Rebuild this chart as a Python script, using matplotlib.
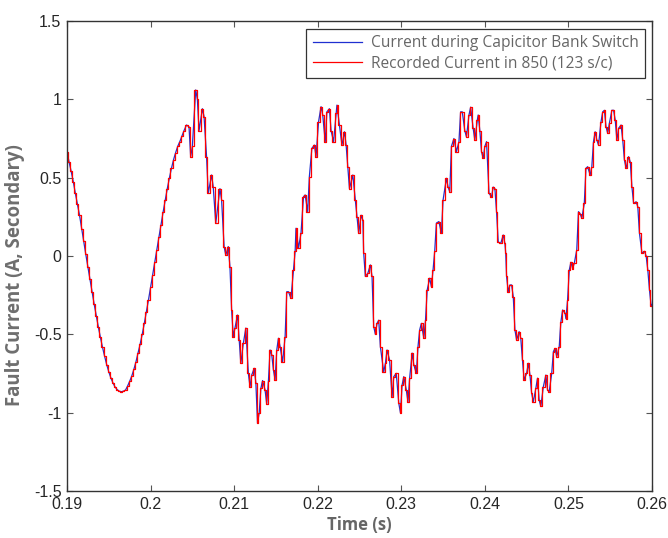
import matplotlib
matplotlib.use('Agg')
import matplotlib.pyplot as plt

# time (s) and current (A, secondary)
time_s = [
    0.19000, 0.19025, 0.19050, 0.19075, 0.19100, 0.19125, 0.19150, 0.19175, 0.19200, 0.19225,
    0.19250, 0.19275, 0.19300, 0.19325, 0.19350, 0.19375, 0.19400, 0.19425, 0.19450, 0.19475,
    0.19500, 0.19525, 0.19550, 0.19575, 0.19600, 0.19625, 0.19650, 0.19675, 0.19700, 0.19725,
    0.19750, 0.19775, 0.19800, 0.19825, 0.19850, 0.19875, 0.19900, 0.19925, 0.19950, 0.19975,
    0.20000, 0.20025, 0.20050, 0.20075, 0.20100, 0.20125, 0.20150, 0.20175, 0.20200, 0.20225,
    0.20250, 0.20275, 0.20300, 0.20325, 0.20350, 0.20375, 0.20400, 0.2043,
    0.2046, 0.2048, 0.2050, 0.2054, 0.2056, 0.2058, 0.2062, 0.2064, 0.2067, 0.2069,
    0.2073, 0.2075, 0.2078, 0.2083, 0.2085, 0.2088, 0.2090, 0.2093, 0.2095, 0.2097,
    0.2099, 0.2101, 0.2104, 0.2106, 0.2108, 0.2111, 0.2114, 0.2117, 0.2119, 0.2121,
    0.2124, 0.2126, 0.2128, 0.2130, 0.2132, 0.2134, 0.2137, 0.2139, 0.2141, 0.2143,
    0.2145, 0.2147, 0.2149, 0.2151, 0.2153, 0.2155, 0.2158, 0.2161, 0.2163, 0.2165,
    0.2168, 0.2171, 0.2173, 0.2174, 0.2177, 0.2180, 0.2183, 0.2185, 0.2188, 0.2190,
    0.2193, 0.2196, 0.2198, 0.2201, 0.2204, 0.2206, 0.2209, 0.2211, 0.2214, 0.2216,
    0.2219, 0.2222, 0.2223, 0.2226, 0.2229, 0.2232, 0.2234, 0.2236, 0.2238, 0.2242,
    0.2245, 0.2247, 0.2249, 0.2252, 0.2254, 0.2255, 0.2257, 0.2260, 0.2263, 0.2265,
    0.2267, 0.2269, 0.2271, 0.2273, 0.2275, 0.2279, 0.2281, 0.2283, 0.2286, 0.2289,
    0.2291, 0.2294, 0.2297, 0.2299, 0.2301, 0.2303, 0.2306, 0.2308, 0.2310, 0.2313,
    0.2315, 0.2318, 0.2320, 0.2322, 0.2324, 0.2327, 0.2329, 0.2331, 0.2334, 0.2336,
    0.2338, 0.2340, 0.2342, 0.2345, 0.2348, 0.2350, 0.2354, 0.2356, 0.2358, 0.2360,
    0.2363, 0.2366, 0.2369, 0.2371, 0.2373, 0.2376, 0.2378, 0.2381, 0.2383, 0.2386,
    0.2388, 0.2391, 0.2392, 0.2394, 0.2396, 0.2398, 0.2400, 0.2402, 0.2405, 0.2408,
    0.2410, 0.2412, 0.2414, 0.2416, 0.2419, 0.2422, 0.2424, 0.2425, 0.2426, 0.2428,
    0.2430, 0.2432, 0.2434, 0.2436, 0.2438, 0.2441, 0.2443, 0.2445, 0.2447, 0.2450,
    0.2452, 0.2454, 0.2456, 0.2458, 0.2461, 0.2463, 0.2465, 0.2467, 0.2470, 0.2473,
    0.2475, 0.2477, 0.2480, 0.2482, 0.2484, 0.2486, 0.2489, 0.2490, 0.2491, 0.2493,
    0.2496, 0.2497, 0.2499, 0.2501, 0.2503, 0.2505, 0.2507, 0.2510, 0.2512, 0.2514,
    0.2516, 0.2519, 0.2521, 0.2523, 0.2526, 0.2528, 0.2530, 0.2532, 0.2534, 0.2536,
    0.2539, 0.2541, 0.2543, 0.2545, 0.2547, 0.2549, 0.2552, 0.2554, 0.2556, 0.2558,
    0.2560, 0.2563, 0.2565, 0.2567, 0.2569, 0.2572, 0.2574, 0.2576, 0.2578, 0.2581,
    0.2583, 0.2585, 0.2588, 0.2591, 0.2593, 0.2595, 0.2597, 0.2599, 0.2600,
]
current_a = [
    0.666, 0.60, 0.54, 0.475, 0.40, 0.33, 0.26, 0.175, 0.094, 0.01,
    -0.068, -0.149, -0.229, -0.307, -0.381, -0.453, -0.52, -0.583, -0.64, -0.693,
    -0.739, -0.778, -0.81, -0.836, -0.853, -0.863, -0.866, -0.863, -0.856, -0.83,
    -0.80, -0.766, -0.724, -0.676, -0.62, -0.563, -0.50, -0.43, -0.355, -0.28,
    -0.20, -0.123, -0.04, 0.04, 0.12, 0.20, 0.28, 0.355, 0.43, 0.497,
    0.56, 0.615, 0.66, 0.70, 0.73, 0.765, 0.80, 0.836,
    0.825, 0.634, 0.70, 1.06, 1.00, 0.80, 0.94, 0.89, 0.634, 0.40,
    0.517, 0.44, 0.21, 0.43, 0.357, 0.06, 0.006, 0.06, -0.07, -0.345,
    -0.515, -0.46, -0.377, -0.536, -0.685, -0.557, -0.46, -0.749, -0.834, -0.76,
    -0.717, -0.81, -1.068, -1.00, -0.845, -0.795, -0.855, -0.945, -0.80, -0.60,
    -0.63, -0.727, -0.79, -0.60, -0.525, -0.579, -0.675, -0.515, -0.228, -0.228,
    -0.27, -0.09, 0.03, 0.177, 0.05, 0.145, 0.378, 0.39, 0.283, 0.506,
    0.687, 0.708, 0.634, 0.857, 0.953, 0.90, 0.73, 0.92, 0.94, 0.80,
    0.73, 0.91, 0.963, 0.836, 0.708, 0.793, 0.708, 0.57, 0.43, 0.517,
    0.357, 0.25, 0.145, 0.26, 0.23, 0.02, -0.13, -0.11, -0.057, -0.13,
    -0.45, -0.50, -0.43, -0.41, -0.58, -0.74, -0.685, -0.60, -0.664, -0.898,
    -0.77, -0.749, -0.94, -1.00, -0.823, -0.77, -0.855, -0.93, -0.78, -0.62,
    -0.695, -0.749, -0.579, -0.472, -0.43, -0.525, -0.408, -0.217, -0.142, -0.196,
    -0.09, 0.03, 0.21, 0.22, 0.145, 0.357, 0.496, 0.44, 0.41, 0.70,
    0.75, 0.666, 0.73, 0.92, 0.92, 0.80, 0.76, 0.90, 0.95, 0.815,
    0.74, 0.868, 0.90, 0.80, 0.666, 0.623, 0.70, 0.73, 0.40, 0.378,
    0.44, 0.43, 0.283, 0.09, 0.08, 0.134, 0.08, 0.017, -0.13, -0.228,
    -0.185, -0.185, -0.26, -0.472, -0.536, -0.483, -0.525, -0.664, -0.79, -0.749,
    -0.685, -0.76, -0.876, -0.93, -0.845, -0.78, -0.92, -0.96, -0.834, -0.76,
    -0.855, -0.866, -0.749, -0.61, -0.59, -0.643, -0.579, -0.493, -0.42, -0.345,
    -0.366, -0.40, -0.28, -0.09, -0.04, -0.08, -0.047, 0.04, 0.283, 0.27,
    0.24, 0.336, 0.56, 0.57, 0.517, 0.57, 0.73, 0.793, 0.74, 0.708,
    0.857, 0.92, 0.93, 0.825, 0.783, 0.847, 0.93, 0.93, 0.868, 0.74,
    0.815, 0.836, 0.74, 0.613, 0.56, 0.634, 0.60, 0.44, 0.336, 0.346,
    0.315, 0.145, 0.017, 0.03, 0.0, -0.09, -0.217, -0.32, -0.31,
]

x_ticks = [0.19, 0.2, 0.21, 0.22, 0.23, 0.24, 0.25, 0.26]
x_ticklabels = ['0.19', '0.2', '0.21', '0.22', '0.23', '0.24', '0.25', '0.26']
y_ticks = [-1.5, -1, -0.5, 0, 0.5, 1, 1.5]
y_ticklabels = ['-1.5', '-1', '-0.5', '0', '0.5', '1', '1.5']

label_font = ['Open Sans', 'DejaVu Sans']
tick_font = ['Liberation Sans', 'DejaVu Sans']

fig = plt.figure(figsize=(6.68, 5.38), dpi=100)
ax = fig.add_axes([67 / 668, 1 - 491 / 538, 585 / 668, 470 / 538])

# blue: simulated trace, red: sampled relay record (staircase)
ax.plot(time_s, current_a, color='#1f2fd0', linewidth=0.9,
        label='Current during Capicitor Bank Switch')
ax.plot(time_s, current_a, color='#ff0000', linewidth=0.9, drawstyle='steps-mid',
        label='Recorded Current in 850 (123 s/c)')

ax.set_xlim(0.19, 0.26)
ax.set_ylim(-1.5, 1.5)
ax.set_xticks(x_ticks)
ax.set_xticklabels(x_ticklabels, family=tick_font, fontsize=11.5, color='#262626')
ax.set_yticks(y_ticks)
ax.set_yticklabels(y_ticklabels, family=tick_font, fontsize=11.5, color='#262626')
ax.tick_params(direction='in', length=4, width=0.8, color='#555555',
               top=True, right=True, pad=4)
for s in ax.spines.values():
    s.set_color('#333333')
    s.set_linewidth(1.0)

ax.set_xlabel('Time (s)', family=label_font, fontsize=12, fontweight='bold',
              color='#666666')
ax.set_ylabel('Fault Current (A, Secondary)', family=label_font, fontsize=13.4,
              fontweight='bold', color='#6e6e6e')
ax.xaxis.set_label_coords(0.5, -0.053)
ax.yaxis.set_label_coords(-0.072, 0.46)

leg = ax.legend(loc='upper right', bbox_to_anchor=(0.988, 0.983), borderaxespad=0,
                fancybox=False, framealpha=1, edgecolor='#333333',
                prop={'family': label_font, 'size': 11.2},
                handlelength=3.2, handletextpad=0.55, borderpad=0.4, labelspacing=0.3)
leg.get_frame().set_linewidth(0.9)
for t in leg.get_texts():
    t.set_color('#666666')

fig.savefig('out.png', dpi=100)
